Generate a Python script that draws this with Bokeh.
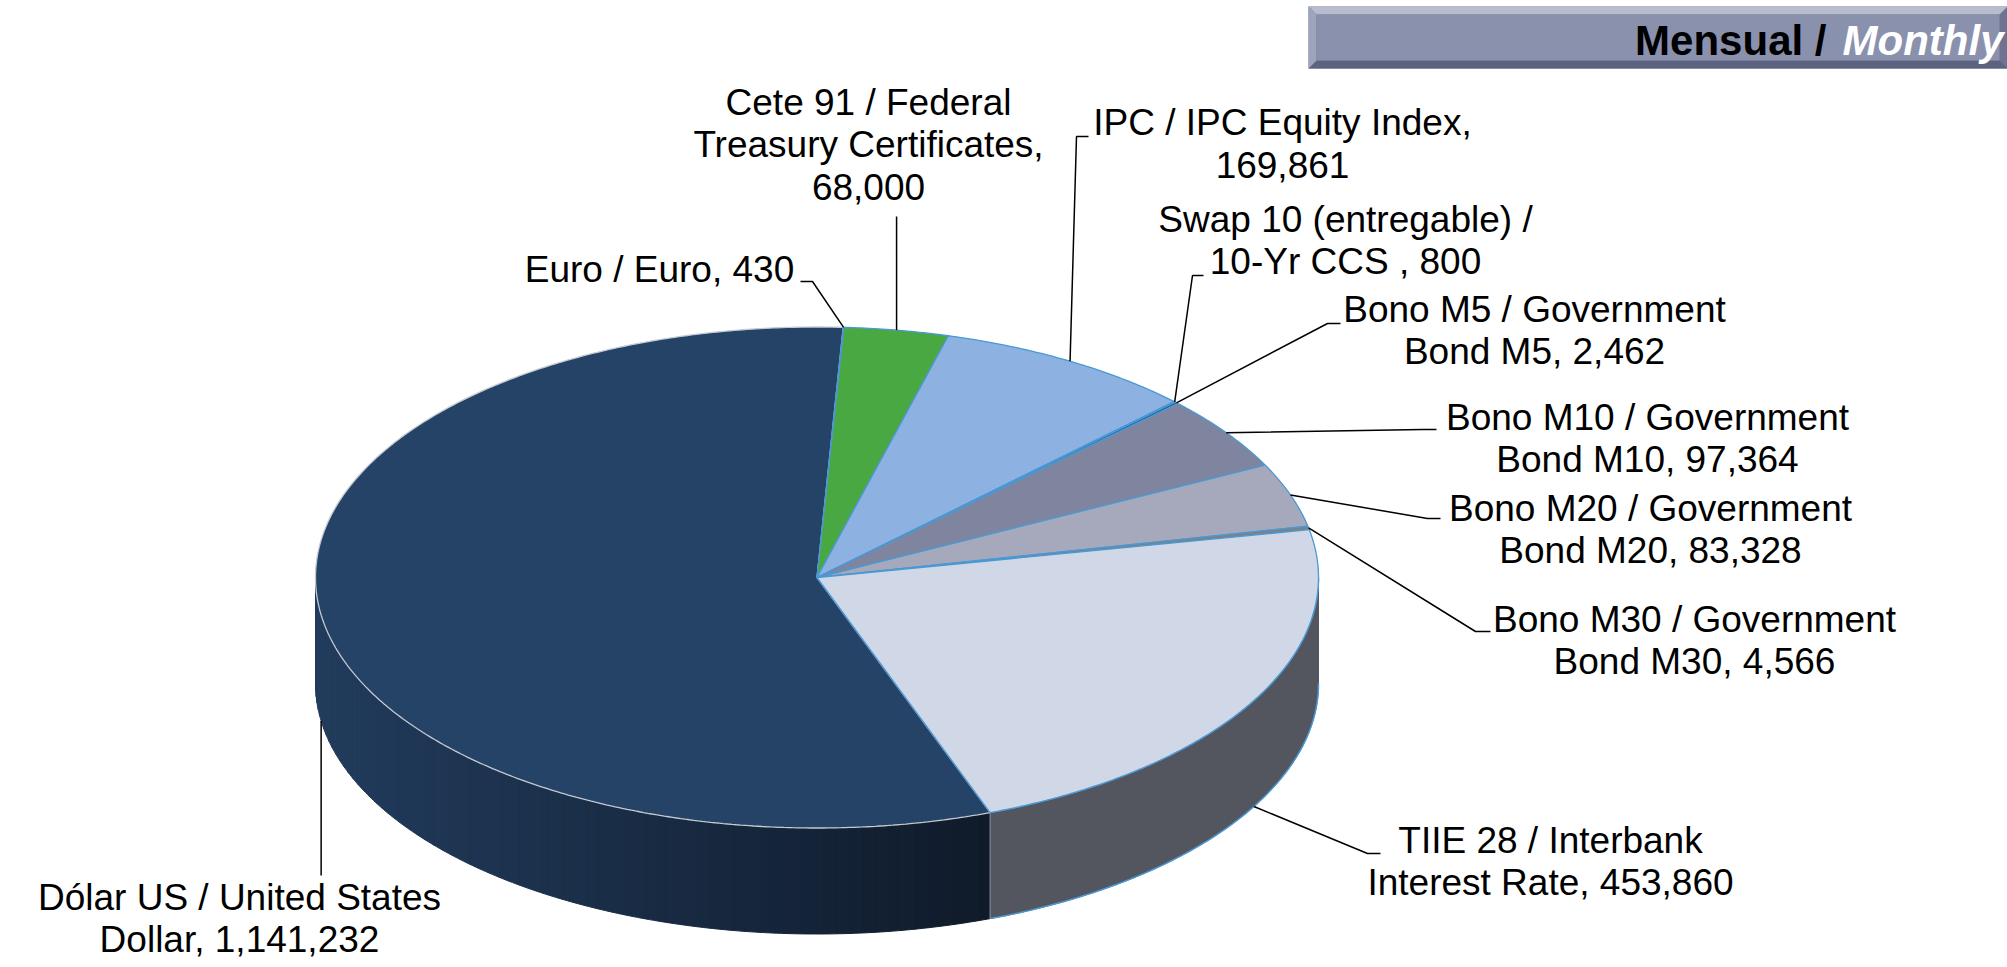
import numpy as np
from bokeh.plotting import figure
from bokeh.models import Range1d
from bokeh.core.properties import value
from bokeh.embed import file_html
from bokeh.resources import INLINE

# ---------------- data ----------------
categories = ["Euro", "Cete 91", "IPC", "Swap 10", "Bono M5", "Bono M10",
              "Bono M20", "Bono M30", "TIIE 28", "Dólar US"]
values = [430, 68000, 169861, 800, 2462, 97364, 83328, 4566, 453860, 1141232]
label_templates = [
    ["Euro / Euro, {v}"],
    ["Cete 91 / Federal", "Treasury Certificates,", "{v}"],
    ["IPC / IPC Equity Index,", "{v}"],
    ["Swap 10 (entregable) /", "10-Yr CCS , {v}"],
    ["Bono M5 / Government", "Bond M5, {v}"],
    ["Bono M10 / Government", "Bond M10, {v}"],
    ["Bono M20 / Government", "Bond M20, {v}"],
    ["Bono M30 / Government", "Bond M30, {v}"],
    ["TIIE 28 / Interbank", "Interest Rate, {v}"],
    ["Dólar US / United States", "Dollar, {v}"],
]
top_colors = ["#4f81bd", "#4aa843", "#8db1e0", "#2a6db0", "#1f5b94",
              "#7f859f", "#a6a9bc", "#808080", "#d0d8e8", "#254366"]
edge_colors = ["#4a98d4"] * 9 + ["#c4c9d2"]
side_colors = {8: "#53565f"}

# ---------------- layout ----------------
W, H = 2007, 967
CX, CY, RX, RY, DEPTH = 816.5, 577.0, 501.5, 250.5, 106.0
START = 87.0  # degrees, slices run clockwise
FONT = value("Liberation Sans")
FS = 37
LINE_H = 42.3
TXT_DY = -0.35  # em; baseline correction of the text glyph

label_pos = [(659, 282), (868, 115), (1282, 135), (1345, 231.5), (1534, 322),
             (1647, 430), (1650, 521), (1694, 632), (1550, 853), (239, 910)]
leader_tail = [[(812, 281), (800, 281)], [(None, 216)], [(1076, 136), (1088, 136)],
               [(1192, 275), (1203, 275)], [(1327, 323), (1340, 323)],
               [(1422, 429), (1436, 429)], [(1427, 518), (1440, 518)],
               [(1475, 631), (1490, 631)], [(1367, 853), (1380, 853)],
               [(None, 875)]]


def pt(deg, dy=0.0):
    r = np.radians(deg)
    return CX + RX * np.cos(r), CY - RY * np.sin(r) + dy


def arc(a, b, step=0.5):
    n = max(2, int(abs(b - a) / step) + 2)
    r = np.radians(np.linspace(a, b, n))
    return CX + RX * np.cos(r), CY - RY * np.sin(r)


total = float(sum(values))
fracs = [v / total for v in values]
bounds = []
cum = 0.0
for f in fracs:
    a0 = START - cum * 360.0
    a1 = a0 - f * 360.0
    bounds.append((a0, a1))
    cum += f

p = figure(width=W, height=H, x_range=Range1d(0, W), y_range=Range1d(H, 0),
           output_backend="svg", toolbar_location=None, min_border=0,
           x_axis_location=None, y_axis_location=None)
p.grid.visible = False
p.outline_line_color = None
p.background_fill_color = "white"
p.border_fill_color = "white"

# ---------------- side walls (front half only) ----------------
sx, sy, sc = [], [], []
for i, (a0, a1) in enumerate(bounds):
    for k in range(-2, 3):
        lo = max(a1, -180.0 - 360.0 * k)
        hi = min(a0, -360.0 * k)
        if hi - lo <= 1e-6:
            continue
        if i == len(values) - 1:
            edges = np.linspace(lo, hi, int((hi - lo) / 1.5) + 2)
            for e0, e1 in zip(edges[:-1], edges[1:]):
                tx, ty = arc(e0, e1, 0.5)
                xs = list(tx) + list(tx[::-1])
                ys = list(ty) + list((ty + DEPTH)[::-1])
                xm = float(np.mean(tx))
                t = min(1.0, max(0.0, (xm - 315.0) / (990.0 - 315.0)))
                c0 = np.array([34, 60, 93]); c1 = np.array([16, 27, 42])
                c = (c0 + (c1 - c0) * t).astype(int)
                sx.append(xs); sy.append(ys)
                sc.append("#%02x%02x%02x" % tuple(c))
        else:
            tx, ty = arc(lo, hi, 0.5)
            xs = list(tx) + list(tx[::-1])
            ys = list(ty) + list((ty + DEPTH)[::-1])
            sx.append(xs); sy.append(ys)
            sc.append(side_colors.get(i, "#555a66"))
p.patches(sx, sy, fill_color=sc, line_color=sc, line_width=1)

a0, a1 = bounds[8]
bx, by = arc(max(a1, -180), min(a0, 0), 0.5)
p.line(bx, by + DEPTH, line_color="#4a98d4", line_width=1.5)
p.line(bx, by, line_color="#4a98d4", line_width=1.5)
sxp, syp = pt(bounds[8][1])
p.line([sxp, sxp], [syp, syp + DEPTH], line_color="#9aa4b0", line_width=1)

# ---------------- top faces ----------------
order = [9] + list(range(0, 9))
tx_all, ty_all, tc, lc = [], [], [], []
for i in order:
    a0, a1 = bounds[i]
    ax, ay = arc(a0, a1, 0.5)
    tx_all.append([CX] + list(ax))
    ty_all.append([CY] + list(ay))
    tc.append(top_colors[i]); lc.append(edge_colors[i])
p.patches(tx_all, ty_all, fill_color=tc, line_color=lc, line_width=1.3)

# ---------------- leaders and labels ----------------
lxs, lys = [], []
txt_x, txt_y, txt = [], [], []
for i, (a0, a1) in enumerate(bounds):
    mid = (a0 + a1) / 2.0
    front = np.sin(np.radians(mid)) < 0
    ax, ay = pt(mid, DEPTH if front else 0.0)
    xs, ys = [ax], [ay]
    for (qx, qy) in leader_tail[i]:
        xs.append(ax if qx is None else qx)
        ys.append(qy)
    lxs.append(xs); lys.append(ys)
    cxl, by0 = label_pos[i]
    for j, line in enumerate(label_templates[i]):
        txt_x.append(cxl)
        txt_y.append(by0 + j * LINE_H + TXT_DY * FS)
        txt.append(line.format(v=f"{values[i]:,}"))

p.multi_line(lxs, lys, line_color="black", line_width=1.5)
p.text(x=txt_x, y=txt_y, text=txt, text_font=FONT, text_font_size=f"{FS}px",
       text_align="center", text_baseline="alphabetic", text_color="black")

# ---------------- header box ----------------
L, R, T, B, BV = 1308, 2007, 6, 68, 8
p.patches(
    [[L, R, R, L], [L, R, R - BV, L + BV], [L, R, R - BV, L + BV], [L, L + BV, L + BV, L],
     [L + BV, R - BV, R - BV, L + BV]],
    [[T, T, B, B], [T, T, T + BV, T + BV], [B, B, B - BV, B - BV], [T, T + BV, B - BV, B],
     [T + BV, T + BV, B - BV, B - BV]],
    fill_color=["#6d7391", "#b7bccf", "#5c6280", "#9ea4bc", "#8a91ad"],
    line_color=None)
HFS = 42
HF = value("Liberation Sans")
p.text(x=[2003], y=[55 + TXT_DY * HFS], text=["Monthly"], text_font=HF,
       text_font_size=f"{HFS}px", text_font_style="bold italic", text_align="right",
       text_baseline="alphabetic", text_color="white")
p.text(x=[1826], y=[55 + TXT_DY * HFS], text=["Mensual /"], text_font=HF,
       text_font_size=f"{HFS}px", text_font_style="bold", text_align="right",
       text_baseline="alphabetic", text_color="black")

open("out.html", "w").write(file_html(p, INLINE))
